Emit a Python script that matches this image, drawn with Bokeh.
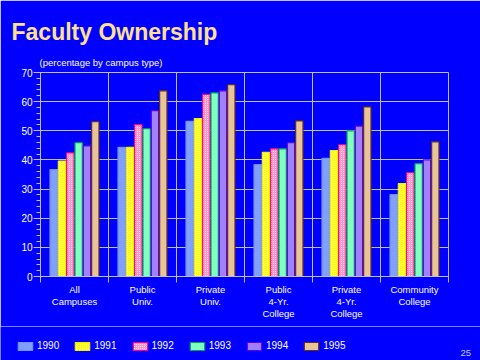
from bokeh.plotting import figure
from bokeh.layouts import column
from bokeh.models import FixedTicker, Legend, LegendItem, Range1d, ColumnDataSource, Title, Label
from bokeh.transform import dodge
from bokeh.embed import file_html
from bokeh.resources import INLINE

# ---- data ----
categories = ["All\nCampuses", "Public\nUniv.", "Private\nUniv.",
              "Public\n4-Yr.\nCollege", "Private\n4-Yr.\nCollege", "Community\nCollege"]
years = ["1990", "1991", "1992", "1993", "1994", "1995"]
v1990 = [36.7, 44.3, 53.2, 38.4, 40.5, 28.1]
v1991 = [39.6, 44.3, 54.2, 42.6, 43.2, 31.9]
v1992 = [42.4, 52.1, 62.5, 43.8, 45.2, 35.6]
v1993 = [45.9, 50.7, 63.0, 43.8, 50.0, 38.7]
v1994 = [44.8, 56.9, 63.7, 45.9, 51.6, 40.0]
v1995 = [53.1, 63.7, 65.8, 53.4, 58.2, 46.2]
y_ticks = [0, 10, 20, 30, 40, 50, 60, 70]

series = [v1990, v1991, v1992, v1993, v1994, v1995]

FONT = "Liberation Sans"
GRID = "#c0c0c0"
BLUE = "#0000ff"
W = 480

centers = [i + 0.5 for i in range(len(categories))]
bounds = [i for i in range(len(categories) + 1)]

data = {"x": centers}
for yr, vals in zip(years, series):
    data["y" + yr] = vals
src = ColumnDataSource(data)

styles = [
    dict(fill_color="#80a0ff", line_color="#7090ff"),
    dict(fill_color="#ffff00", line_color="#f0f000", hatch_pattern="dot", hatch_color="white", hatch_scale=2, hatch_weight=1),
    dict(fill_color="#ff90c8", line_color="#ff0080", hatch_pattern="dot", hatch_color="white", hatch_scale=2, hatch_weight=1),
    dict(fill_color="#80ffc0", line_color="#00a060"),
    dict(fill_color="#a080ff", line_color="#6000e0"),
    dict(fill_color="#e8c498", line_color="#603018"),
]
step = 0.1225


def no_align(fig):
    try:
        fig.frame_align = False
    except Exception:
        pass


# ---- main chart ----
p = figure(width=W, height=326, x_range=Range1d(0, len(categories)), y_range=Range1d(0, 70),
           output_backend="svg", toolbar_location=None,
           min_border_left=40, min_border_right=32, min_border_top=72, min_border_bottom=50,
           background_fill_color=BLUE, border_fill_color=BLUE, outline_line_color=GRID)
no_align(p)

for k, (yr, st) in enumerate(zip(years, styles)):
    p.vbar(x=dodge("x", (k - 2.5) * step), top="y" + yr, width=0.108, source=src,
           line_width=1.2, **st)

xa = p.xaxis[0]
xa.ticker = FixedTicker(ticks=centers, minor_ticks=bounds)
xa.major_label_overrides = {c: lab for c, lab in zip(centers, categories)}
xa.major_tick_line_color = None
xa.major_tick_out = 0
xa.major_tick_in = 0
xa.minor_tick_out = 6
xa.minor_tick_in = 0
xa.minor_tick_line_color = GRID
xa.axis_line_color = GRID
xa.major_label_standoff = 1
xa.major_label_text_color = "white"
xa.major_label_text_font = FONT
xa.major_label_text_font_size = "9.5px"
xa.major_label_text_line_height = 1.1

ya = p.yaxis[0]
ya.ticker = FixedTicker(ticks=y_ticks, minor_ticks=list(range(0, 71, 2)))
ya.major_tick_out = 7
ya.major_tick_in = 0
ya.minor_tick_out = 4
ya.minor_tick_in = 0
ya.major_tick_line_color = GRID
ya.minor_tick_line_color = GRID
ya.axis_line_color = GRID
ya.major_label_standoff = 1
ya.major_label_text_color = "white"
ya.major_label_text_font = FONT
ya.major_label_text_font_size = "10px"

p.xgrid.ticker = FixedTicker(ticks=bounds[1:-1])
p.ygrid.ticker = FixedTicker(ticks=y_ticks)
p.xgrid.grid_line_color = GRID
p.ygrid.grid_line_color = GRID

p.add_layout(Title(text="(percentage by campus type)", align="left", offset=-1, standoff=10,
                   text_font=FONT, text_font_size="9.5px", text_font_style="normal",
                   text_color="white"), "above")
p.add_layout(Title(text="Faculty Ownership", align="left", offset=-29, standoff=10,
                   text_font=FONT, text_font_size="23px", text_font_style="bold",
                   text_color="#ffe090"), "above")

# ---- footer with legend and page number ----
foot = figure(width=W, height=34, x_range=Range1d(0, len(categories)), y_range=Range1d(1000, 1001),
              output_backend="svg", toolbar_location=None,
              x_axis_location=None, y_axis_location=None,
              min_border=0, min_border_left=0, min_border_right=0,
              min_border_top=0, min_border_bottom=0,
              background_fill_color=BLUE, border_fill_color=BLUE, outline_line_color=None)
no_align(foot)
foot.grid.visible = False

items = []
for k, (yr, st) in enumerate(zip(years, styles)):
    # same bars, outside the footer's visible range: only their legend swatches show
    r = foot.vbar(x=dodge("x", (k - 2.5) * step), top="y" + yr, width=0.108, source=src,
                  line_width=1.2, **st)
    items.append(LegendItem(label=yr, renderers=[r]))

legend = Legend(items=items, orientation="horizontal", location=(16, 9),
                glyph_width=18, glyph_height=10, label_height=10, label_standoff=3,
                spacing=14, padding=0, margin=0, border_line_color=None,
                background_fill_alpha=0, label_text_color="white",
                label_text_font=FONT, label_text_font_size="10px")
foot.add_layout(legend)
foot.add_layout(Label(x=460, y=26, x_units="canvas", y_units="canvas", text="25",
                      text_font=FONT, text_font_size="9.5px", text_color="#c8c8ff",
                      text_baseline="alphabetic"))

layout = column(p, foot, spacing=0)
open("out.html", "w").write(file_html(layout, INLINE))
